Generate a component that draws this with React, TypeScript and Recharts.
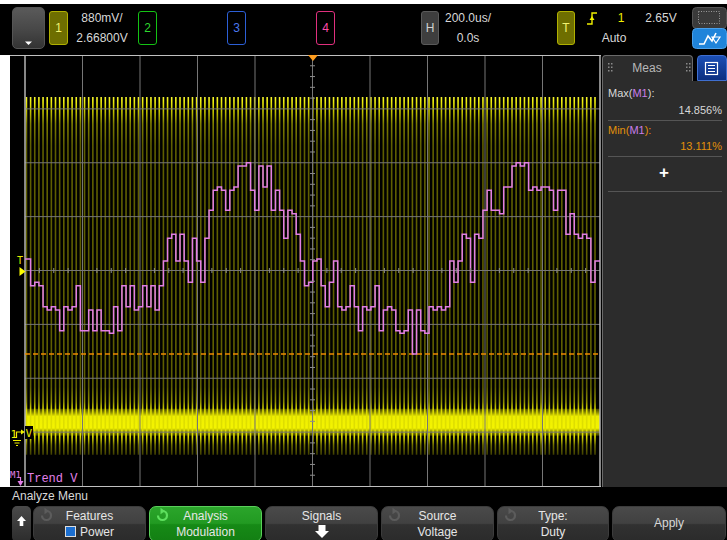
import React from 'react';
import { ComposedChart, Line, Scatter, XAxis, YAxis, ReferenceLine, ReferenceArea } from 'recharts';

const FONT = '"Liberation Sans", Arial, sans-serif';

// horizontal: 200.0us/div, 10 divisions around 0.0s
const TIME_DOMAIN: [number, number] = [-1000, 1000];
const TIME_GRID = [-800, -600, -400, -200, 0, 200, 400, 600, 800];
// channel 1: 880mV/div, offset 2.66800V
const VOLT_DOMAIN: [number, number] = [-0.852, 6.188];
const VOLT_GRID = [0.028, 0.908, 1.788, 2.668, 3.548, 4.428, 5.308];
const VOLT_CENTER = 2.668;
// trend (duty %) scale of the M1 math trace
const TREND_DOMAIN: [number, number] = [11.907, 15.838];
const MEAS_MAX = 14.856;
const MEAS_MIN = 13.111;

// PWM on channel 1
const PWM_PERIOD_US = 14.435;
const PWM_FIRST_EDGE_US = -994.95;
const PWM_LOW = -0.34;
const PWM_HIGH = 5.5;

// duty cycle trend, one value per PWM period (%)
const DUTY = [
  13.978, 13.978, 13.734, 13.765, 13.734, 13.543, 13.512, 13.543, 13.512, 13.323,
  13.543, 13.512, 13.543, 13.734, 13.323, 13.323, 13.512, 13.323, 13.512, 13.323,
  13.323, 13.300, 13.543, 13.323, 13.734, 13.543, 13.734, 13.512, 13.543, 13.734,
  13.543, 13.734, 13.512, 13.734, 13.959, 14.166, 14.203, 13.959, 14.203, 13.959,
  13.765, 14.166, 13.959, 13.765, 14.166, 14.422, 14.604, 14.634, 14.604, 14.422,
  14.604, 14.634, 14.826, 14.826, 14.856, 14.604, 14.422, 14.826, 14.634, 14.826,
  14.422, 14.604, 14.422, 14.166, 14.422, 14.391, 14.203, 13.959, 13.734, 13.765,
  13.959, 13.978, 13.734, 13.543, 13.765, 13.959, 13.543, 13.512, 13.543, 13.734,
  13.543, 13.323, 13.543, 13.512, 13.543, 13.734, 13.323, 13.512, 13.543, 13.512,
  13.323, 13.300, 13.323, 13.512, 13.111, 13.512, 13.323, 13.300, 13.543, 13.512,
  13.543, 13.512, 13.543, 13.959, 13.765, 13.959, 14.203, 14.166, 13.765, 14.203,
  14.166, 14.422, 14.604, 14.422, 14.422, 14.391, 14.634, 14.634, 14.826, 14.856,
  14.826, 14.856, 14.604, 14.634, 14.604, 14.634, 14.634, 14.604, 14.422, 14.604,
  14.604, 14.203, 14.391, 14.203, 14.166, 14.203, 14.166, 13.765, 13.959,
];

const edgeTime = (i: number) => PWM_FIRST_EDGE_US + i * PWM_PERIOD_US;

// each PWM edge as a vertical stroke (null breaks the line between pulses)
const PULSES = DUTY.slice(1).flatMap((_, i) => [
  { t: edgeTime(i), v: PWM_LOW },
  { t: edgeTime(i), v: PWM_HIGH },
  { t: edgeTime(i), v: null },
]);
const TREND = [
  ...DUTY.map((d, i) => ({ t: i === 0 ? TIME_DOMAIN[0] : edgeTime(i - 1), d })),
  { t: TIME_DOMAIN[1], d: DUTY[DUTY.length - 1] },
];

// minor ticks on the centre axes
const H_TICKS = [] as { t: number; v: number }[];
for (let t = -950; t < 1000; t += 50) if (t % 200 !== 0) H_TICKS.push({ t, v: VOLT_CENTER });
const V_TICKS = [] as { t: number; v: number }[];
for (let k = -19; k <= 19; k++) if (k % 5 !== 0) V_TICKS.push({ t: 0, v: VOLT_CENTER + k * 0.176 });

const HTick = (p: any) => <line x1={p.cx} x2={p.cx} y1={p.cy - 2.5} y2={p.cy + 2.5} stroke="#8c8c8c" strokeWidth={1} />;
const VTick = (p: any) => <line x1={p.cx - 2.5} x2={p.cx + 2.5} y1={p.cy} y2={p.cy} stroke="#8c8c8c" strokeWidth={1} />;

function ScopeChart() {
  return (
    <ComposedChart
      width={727}
      height={540}
      margin={{ top: 55, right: 127, bottom: 54, left: 25 }}
      style={{ position: 'absolute', left: 0, top: 0 }}
    >
      <defs>
        <linearGradient id="pulseGrad" gradientUnits="userSpaceOnUse" x1="0" y1="55" x2="0" y2="486">
          <stop offset="0.09" stopColor="#f4f450" />
          <stop offset="0.106" stopColor="#f0f010" />
          <stop offset="0.13" stopColor="#c4c400" />
          <stop offset="0.16" stopColor="#7e7e00" />
          <stop offset="0.21" stopColor="#5e5e00" />
          <stop offset="0.77" stopColor="#5e5e00" />
          <stop offset="0.805" stopColor="#8e8e00" />
          <stop offset="0.824" stopColor="#dede00" />
          <stop offset="0.886" stopColor="#dede00" />
          <stop offset="0.905" stopColor="#6e6e00" />
          <stop offset="0.935" stopColor="#303000" />
        </linearGradient>
        <linearGradient id="bandGrad" x1="0" y1="0" x2="0" y2="1">
          <stop offset="0" stopColor="#b0b000" stopOpacity={0.35} />
          <stop offset="0.28" stopColor="#eeee00" />
          <stop offset="0.72" stopColor="#f4f400" />
          <stop offset="1" stopColor="#a0a000" stopOpacity={0.35} />
        </linearGradient>
      </defs>
      <XAxis type="number" dataKey="t" domain={TIME_DOMAIN} allowDataOverflow hide />
      <YAxis yAxisId="v" type="number" domain={VOLT_DOMAIN} allowDataOverflow hide />
      <YAxis yAxisId="pct" type="number" domain={TREND_DOMAIN} allowDataOverflow hide />

      <Line
        yAxisId="v"
        data={PULSES}
        dataKey="v"
        type="linear"
        stroke="url(#pulseGrad)"
        strokeWidth={1.6}
        dot={false}
        connectNulls={false}
        isAnimationActive={false}
      />
      <ReferenceArea yAxisId="v" y1={-0.03} y2={0.41} fill="url(#bandGrad)" fillOpacity={1} stroke="none" />

      {TIME_GRID.map((t) => (
        <ReferenceLine key={'x' + t} yAxisId="v" x={t} stroke="#767676" strokeWidth={1} />
      ))}
      {VOLT_GRID.map((v) => (
        <ReferenceLine key={'y' + v} yAxisId="v" y={v} stroke="#767676" strokeWidth={1} />
      ))}
      <ReferenceLine yAxisId="v" x={TIME_DOMAIN[0]} stroke="#b4b4b4" strokeWidth={1.5} />
      <ReferenceLine yAxisId="v" x={TIME_DOMAIN[1]} stroke="#b4b4b4" strokeWidth={1.5} />
      <Scatter yAxisId="v" data={H_TICKS} dataKey="v" shape={HTick} isAnimationActive={false} />
      <Scatter yAxisId="v" data={V_TICKS} dataKey="v" shape={VTick} isAnimationActive={false} />

      <ReferenceLine yAxisId="pct" y={MEAS_MIN} stroke="#f08a00" strokeWidth={1.5} strokeDasharray="5 3" />
      <Line
        yAxisId="pct"
        data={TREND}
        dataKey="d"
        type="stepAfter"
        stroke="#e27ee4"
        strokeWidth={1.5}
        dot={false}
        isAnimationActive={false}
      />
    </ComposedChart>
  );
}

function ChanBox({ left, label, border, fill, color, width = 19 }: any) {
  return (
    <div
      style={{
        position: 'absolute', left, top: 11, width, height: 34, boxSizing: 'border-box',
        border: `1px solid ${border}`, borderRadius: 3, background: fill, color, fontSize: 12,
        display: 'flex', alignItems: 'center', justifyContent: 'center',
      }}
    >
      {label}
    </div>
  );
}

function Txt({ x, y, w = 80, align = 'center', color = '#d8d8d8', size = 12, children }: any) {
  const left = align === 'center' ? x - w / 2 : align === 'right' ? x - w : x;
  return (
    <div
      style={{
        position: 'absolute', left, top: y - 8, width: w, height: 16, lineHeight: '16px',
        textAlign: align, color, fontSize: size, whiteSpace: 'nowrap',
      }}
    >
      {children}
    </div>
  );
}

function SpinIcon({ x, color }: any) {
  return (
    <svg width={16} height={16} style={{ position: 'absolute', left: x, top: 507 }}>
      <path d="M4 8.5 A4.5 4.5 0 1 0 8.5 4" fill="none" stroke={color} strokeWidth={2.2} />
      <path d="M6.5 0.8 L11 4 L6.5 7.2 Z" fill={color} />
    </svg>
  );
}

function MenuButton({ left, width, green, line1, line2, children }: any) {
  const bg = green
    ? 'linear-gradient(#2ba52b 0%, #229a22 48%, #168a16 52%, #137f13 100%)'
    : 'linear-gradient(#4a4a4a 0%, #414141 48%, #313131 52%, #2b2b2b 100%)';
  return (
    <div
      style={{
        position: 'absolute', left, top: 506, width, height: 36, boxSizing: 'border-box',
        background: bg, borderRadius: 7, border: green ? '1px solid #5ad05a' : '1px solid #3c3c3c',
        color: '#e6e6e6', fontSize: 12,
      }}
    >
      <div style={{ position: 'absolute', left: 0, top: 2, width: '100%', textAlign: 'center', lineHeight: '15px' }}>{line1}</div>
      {line2 && (
        <div style={{ position: 'absolute', left: 0, top: 18, width: '100%', textAlign: 'center', lineHeight: '15px' }}>{line2}</div>
      )}
      {children}
    </div>
  );
}

export default function App() {
  return (
    <div style={{ position: 'absolute', left: 0, top: 0, width: 727, height: 540, background: '#fff', overflow: 'hidden', fontFamily: FONT }}>
      {/* screen backgrounds */}
      <div style={{ position: 'absolute', left: 0, top: 4, width: 727, height: 51, background: '#000' }} />
      <div style={{ position: 'absolute', left: 10, top: 55, width: 717, height: 432, background: '#000' }} />
      <div style={{ position: 'absolute', left: 0, top: 487, width: 727, height: 53, background: '#000' }} />

      {/* right measurement panel */}
      <div style={{ position: 'absolute', left: 602, top: 55, width: 91, height: 27, boxSizing: 'border-box', background: '#2c2c2c', border: '1px solid #6a6a6a', borderBottom: 'none', borderRadius: '4px 4px 0 0' }} />
      <div style={{ position: 'absolute', left: 697, top: 55, width: 30, height: 26, boxSizing: 'border-box', background: 'linear-gradient(#1b4fb5, #0c2f80)', border: '1px solid #3f6fd0', borderRadius: '4px 4px 0 0' }} />
      <div style={{ position: 'absolute', left: 602, top: 81, width: 125, height: 406, boxSizing: 'border-box', background: '#2c2c2c', borderLeft: '1px solid #6a6a6a' }} />

      <ScopeChart />

      {/* top bar */}
      <div style={{ position: 'absolute', left: 12, top: 7, width: 33, height: 42, boxSizing: 'border-box', borderRadius: 5, border: '1px solid #555', background: 'linear-gradient(#5a5a5a, #474747 55%, #333 100%)' }} />
      <ChanBox left={49} label="1" border="#b0b000" fill="#6e6e00" color="#f2f270" />
      <Txt x={102} y={18}>880mV/</Txt>
      <Txt x={102} y={38}>2.66800V</Txt>
      <ChanBox left={138} label="2" border="#14c214" fill="#000" color="#2ed82e" />
      <ChanBox left={227} label="3" border="#2c5fd6" fill="#000" color="#4a78f0" />
      <ChanBox left={316} label="4" border="#e0307e" fill="#000" color="#ff4aa8" />
      <ChanBox left={421} width={18} label="H" border="#5a5a5a" fill="#3e3e3e" color="#d0d0d0" />
      <Txt x={468} y={18}>200.0us/</Txt>
      <Txt x={468} y={38}>0.0s</Txt>
      <ChanBox left={557} width={18} label="T" border="#b0b000" fill="#6e6e00" color="#f2f270" />
      <Txt x={621} y={18} w={20} color="#f0f000">1</Txt>
      <Txt x={661} y={18}>2.65V</Txt>
      <Txt x={614} y={38}>Auto</Txt>

      <svg width={727} height={540} style={{ position: 'absolute', left: 0, top: 0, pointerEvents: 'none' }}>
        {/* top-left menu button arrow */}
        <polygon points="25,41.5 32,41.5 28.5,45" fill="#fff" />
        {/* trigger edge symbol */}
        <path d="M587 24 L592 24 L592 13 L597 13" fill="none" stroke="#f0f000" strokeWidth={1.4} />
        <polygon points="589.5,20 594.5,20 592,16" fill="#f0f000" />
        {/* top-right icons */}
        <rect x={692.5} y={7.5} width={34} height={21} rx={4} fill="#3a3a3a" stroke="#555" />
        <rect x={698.5} y={11.5} width={21} height={12} fill="none" stroke="#9a9a9a" strokeDasharray="1 1.5" />
        <rect x={692.5} y={28.5} width={34} height={20} rx={4} fill="#1f84da" stroke="#4aa0ea" />
        <path d="M699 44 L704 44 L708 36 L712 41 L716 33" fill="none" stroke="#fff" strokeWidth={1.6} />
        <polygon points="712,37 720,37 716,43" fill="none" stroke="#fff" strokeWidth={1.2} />

        {/* plot frame top/bottom */}
        <line x1={10} x2={601} y1={55.5} y2={55.5} stroke="#c0c0c0" />
        <line x1={10} x2={601} y1={486.5} y2={486.5} stroke="#c0c0c0" />
        {/* trigger position marker */}
        <polygon points="308,55 318,55 313,61" fill="#ff9d1e" />
        {/* trigger level */}
        <text x={17} y={264} fontSize={10} fill="#e8e800" fontFamily='"DejaVu Sans Mono", monospace'>T</text>
        <polygon points="19.5,267 25.5,271.5 19.5,276" fill="#ffff00" />
        {/* channel 1 ground reference */}
        <text x={10.5} y={438} fontSize={11} fill="#f0f000" fontFamily='"DejaVu Sans Mono", monospace'>1</text>
        <path d="M16.5 438 L16.5 432 L22 432" fill="none" stroke="#f0f000" strokeWidth={1.2} />
        <polygon points="21,429.5 25,432 21,434.5" fill="#f0f000" />
        <rect x={25} y={426} width={8} height={13} fill="#000" />
        <text x={25.5} y={437} fontSize={11} fill="#f0f000" fontFamily='"DejaVu Sans Mono", monospace'>V</text>
        <line x1={13} x2={21} y1={440.5} y2={440.5} stroke="#f0f000" />
        <line x1={14.5} x2={19.5} y1={443} y2={443} stroke="#f0f000" />
        <line x1={16} x2={18} y1={445.5} y2={445.5} stroke="#f0f000" />
        {/* math trend label */}
        <text x={10} y={478} fontSize={9} fill="#e480ea" fontFamily='"DejaVu Sans Mono", monospace'>M1</text>
        <line x1={20.5} x2={20.5} y1={477} y2={485} stroke="#e480ea" strokeWidth={1.2} />
        <polygon points="17.5,481 23.5,481 20.5,486" fill="#e480ea" />
        <text x={27} y={482} fontSize={12} fill="#e480ea" fontFamily='"Liberation Mono", monospace'>Trend V</text>

        {/* Meas tab decorations */}
        {[608, 686].map((x) => (
          <g key={x} fill="#8a8a8a">
            <rect x={x} y={63} width={1.5} height={1.5} />
            <rect x={x + 3} y={63} width={1.5} height={1.5} />
            <rect x={x} y={66.5} width={1.5} height={1.5} />
            <rect x={x + 3} y={66.5} width={1.5} height={1.5} />
            <rect x={x} y={70} width={1.5} height={1.5} />
            <rect x={x + 3} y={70} width={1.5} height={1.5} />
          </g>
        ))}
        <rect x={705.5} y={62.5} width={12} height={12} fill="none" stroke="#fff" strokeWidth={1.2} />
        <line x1={708} x2={715} y1={65.5} y2={65.5} stroke="#fff" />
        <line x1={708} x2={715} y1={68.5} y2={68.5} stroke="#fff" />
        <line x1={708} x2={715} y1={71.5} y2={71.5} stroke="#fff" />
        {/* panel separators */}
        <line x1={608} x2={722} y1={120.5} y2={120.5} stroke="#555" />
        <line x1={608} x2={722} y1={156.5} y2={156.5} stroke="#555" />
        <line x1={608} x2={722} y1={191.5} y2={191.5} stroke="#555" />
      </svg>

      {/* measurement panel text */}
      <Txt x={647} y={68} w={50} color="#b8b8b8">Meas</Txt>
      <Txt x={608} y={93} w={100} align="left" size={11}>
        Max(<span style={{ color: '#c97ee8' }}>M1</span>):
      </Txt>
      <Txt x={722} y={110} w={80} align="right" size={11}>{MEAS_MAX.toFixed(3)}%</Txt>
      <Txt x={608} y={130} w={100} align="left" size={11} color="#e3900a">
        Min(<span style={{ color: '#c97ee8' }}>M1</span>):
      </Txt>
      <Txt x={722} y={146} w={80} align="right" size={11} color="#e3900a">{MEAS_MIN.toFixed(3)}%</Txt>
      <Txt x={664} y={173} w={20} size={17} color="#fff"><b>+</b></Txt>

      {/* bottom softkey menu */}
      <Txt x={12} y={496} w={120} align="left">Analyze Menu</Txt>
      <div style={{ position: 'absolute', left: 12, top: 506, width: 19, height: 36, borderRadius: 5, background: 'linear-gradient(#4a4a4a, #2c2c2c)' }}>
        <svg width={19} height={34}>
          <polygon points="9.5,10 14,15 11.3,15 11.3,20 7.7,20 7.7,15 5,15" fill="#fff" />
        </svg>
      </div>
      <MenuButton left={33} width={113} line1="Features" line2={<span><span style={{ display: 'inline-block', width: 9, height: 9, background: '#1c6fd0', border: '1px solid #ddd', marginRight: 4, verticalAlign: -1 }} />Power</span>} />
      <SpinIcon x={38} color="#5c5c5c" />
      <MenuButton left={149} width={113} green line1="Analysis" line2="Modulation" />
      <SpinIcon x={154} color="#5ee05e" />
      <MenuButton left={265} width={113} line1="Signals">
        <svg width={113} height={34} style={{ position: 'absolute', left: 0, top: 0 }}>
          <polygon points="49,24 63,24 56,31" fill="#fff" />
          <rect x={52.5} y={18} width={7} height={6} fill="#fff" />
        </svg>
      </MenuButton>
      <MenuButton left={381} width={113} line1="Source" line2="Voltage" />
      <SpinIcon x={386} color="#5c5c5c" />
      <MenuButton left={497} width={112} line1="Type:" line2="Duty" />
      <SpinIcon x={502} color="#5c5c5c" />
      <MenuButton left={612} width={114} line1="" />
      <Txt x={669} y={523} w={60}>Apply</Txt>
    </div>
  );
}
